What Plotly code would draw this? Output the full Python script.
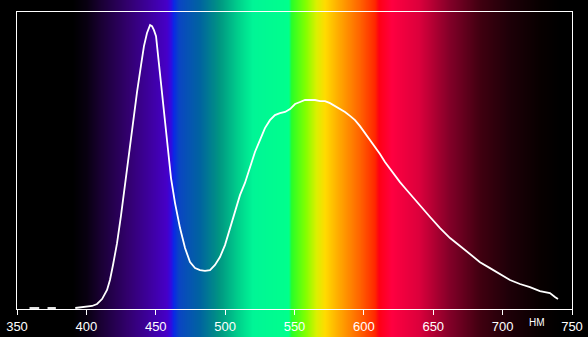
import base64
import struct
import zlib

import plotly.graph_objects as go

# Spectrum data (wavelength nm, relative intensity %)
wavelength = [359, 362, 366, None, 372, 375, 378, None, 392, 396, 399, 404.1, 407.7, 411.3, 414.9, 417.0, 419.2,
              422.1, 425.0, 427.8, 430.7, 433.6, 436.5, 439.4, 441.5, 443.7, 445.9, 447.3,
              448.7, 450.2, 451.6, 453.1, 455.2, 458.1, 461.0, 463.9, 467.5, 471.1, 474.7,
              478.3, 481.9, 485.5, 489.1, 492.7, 496.3, 499.9, 503.5, 507.1, 510.7, 514.3,
              517.9, 521.5, 525.1, 528.7, 532.3, 535.9, 539.5, 543.2, 546.8, 550.4, 554.0,
              557.6, 561.2, 564.8, 568.4, 572.0, 575.6, 579.2, 582.8, 586.4, 590.0, 593.6,
              597.2, 600.8, 604.4, 608.0, 611.6, 615.2, 618.8, 622.4, 626.0, 629.6, 633.2,
              636.8, 640.4, 644.1, 647.7, 654.9, 662.1, 669.3, 676.5, 683.7, 690.9, 698.1,
              705.3, 712.5, 719.7, 726.9, 734.1, 737.7, 739.9]
intensity = [0.35, 0.35, 0.35, None, 0.35, 0.35, 0.35, None, 0.35, 0.5, 0.7, 1.06, 1.76, 3.5, 6.7, 10.2, 15.5,
             23.2, 33.1, 43.7, 55.3, 66.5, 76.4, 85.9, 92.6, 97.2, 100.0, 99.6,
             98.2, 96.1, 89.4, 81.7, 71.8, 58.5, 46.1, 37.3, 28.5, 21.5, 16.5,
             14.4, 13.7, 13.4, 13.7, 15.5, 18.3, 22.5, 28.5, 34.9, 40.1, 44.4,
             49.6, 55.3, 59.5, 63.7, 66.5, 68.3, 69.0, 69.4, 70.4, 72.2, 72.9,
             73.6, 73.6, 73.6, 73.2, 73.2, 72.5, 71.5, 70.4, 69.4, 68.0, 66.5,
             64.4, 62.0, 59.5, 57.0, 54.6, 51.8, 49.3, 47.2, 44.7, 42.6, 40.5,
             38.4, 36.3, 34.5, 32.4, 28.5, 25.0, 22.2, 19.4, 16.5, 14.4, 12.3,
             10.2, 8.8, 7.7, 6.3, 5.6, 4.2, 3.5]

x_ticks = [350, 400, 450, 500, 550, 600, 650, 700, 750]
unit_label = "НМ"

# Background spectrum colour stops (nm, r, g, b)
color_stops = [
    (350, 0, 0, 0), (390, 0, 0, 0), (400, 8, 0, 16), (410, 25, 0, 50),
    (430, 50, 0, 110), (446, 62, 0, 160), (458, 70, 0, 200), (461, 50, 10, 225),
    (463, 10, 40, 230), (467, 10, 70, 195), (482, 0, 100, 160), (496, 0, 150, 130),
    (510, 0, 210, 140), (520, 0, 245, 150), (546, 0, 255, 140), (548, 40, 255, 40),
    (558, 130, 255, 0), (566, 220, 240, 0), (572, 255, 220, 0), (580, 255, 180, 0),
    (597, 255, 100, 0), (608, 255, 40, 0), (611, 255, 0, 20), (620, 255, 0, 64),
    (640, 220, 0, 60), (662, 130, 0, 40), (684, 64, 0, 16), (705, 30, 0, 8),
    (727, 8, 0, 0), (742, 0, 0, 0), (750, 0, 0, 0),
]


def spec_rgb(nm):
    for (a, r0, g0, b0), (b, r1, g1, b1) in zip(color_stops[:-1], color_stops[1:]):
        if a <= nm <= b:
            t = (nm - a) / (b - a) if b > a else 0
            return (round(r0 + (r1 - r0) * t), round(g0 + (g1 - g0) * t), round(b0 + (b1 - b0) * t))
    return (0, 0, 0)


def make_png(width, height, pixel_fn):
    raw = b""
    for _ in range(height):
        row = b"\x00"
        for i in range(width):
            row += bytes(pixel_fn(i))
        raw += row

    def chunk(tag, data):
        c = struct.pack(">I", len(data)) + tag + data
        return c + struct.pack(">I", zlib.crc32(tag + data) & 0xffffffff)

    png = b"\x89PNG\r\n\x1a\n"
    png += chunk(b"IHDR", struct.pack(">IIBBBBB", width, height, 8, 2, 0, 0, 0))
    png += chunk(b"IDAT", zlib.compress(raw, 9))
    png += chunk(b"IEND", b"")
    return "data:image/png;base64," + base64.b64encode(png).decode()


res = 4  # pixels per nm
img_w = 400 * res
grad_src = make_png(img_w, 2, lambda i: spec_rgb(350 + (i + 0.5) / res))

fig = go.Figure()
fig.add_trace(go.Scatter(x=wavelength, y=intensity, mode="lines",
                         line=dict(color="white", width=1.8), connectgaps=False,
                         hoverinfo="skip"))

fig.add_layout_image(dict(source=grad_src, xref="x", yref="paper", x=350, y=1.1,
                          sizex=400, sizey=1.3, sizing="stretch", layer="below",
                          xanchor="left", yanchor="top", opacity=1))

fig.add_annotation(x=725, y=0, xref="x", yref="paper", text=unit_label,
                   showarrow=False, yanchor="middle", yshift=-13,
                   font=dict(color="white", size=10,
                             family="Liberation Sans, Arial, sans-serif"))

fig.update_layout(
    width=588, height=337,
    margin=dict(l=17, r=16, t=12, b=28, autoexpand=False),
    paper_bgcolor="black", plot_bgcolor="rgba(0,0,0,0)",
    showlegend=False,
    font=dict(family="Liberation Sans, Arial, sans-serif", color="white", size=13),
    xaxis=dict(range=[350, 750], tickvals=x_ticks, ticktext=[str(v) for v in x_ticks],
               automargin=False,
               showgrid=False, zeroline=False, showline=True, linecolor="white",
               linewidth=1, mirror=True, ticks="outside", ticklen=5, tickcolor="white",
               tickwidth=1, tickfont=dict(color="white", size=13)),
    yaxis=dict(range=[0, 104.6], showgrid=False, zeroline=False, showline=True,
               automargin=False,
               linecolor="white", linewidth=1, mirror=True, showticklabels=False,
               ticks=""),
)

fig.write_html("out.html")
